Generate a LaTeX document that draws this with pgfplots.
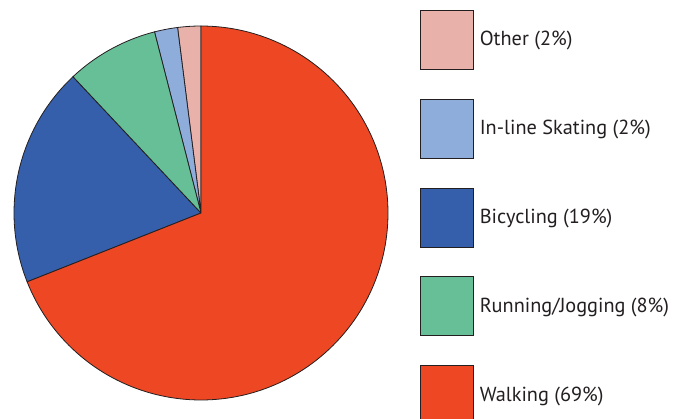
\documentclass[border=0pt]{standalone}
\usepackage{pgfplots}
\pgfplotsset{compat=1.18}
\usepackage{fontspec}
\setmainfont{PT Sans}
\definecolor{cOther}{HTML}{E8B2AA}
\definecolor{cInline}{HTML}{8FADDB}
\definecolor{cBike}{HTML}{355FAB}
\definecolor{cRun}{HTML}{67BF98}
\definecolor{cWalk}{HTML}{EE4723}
\definecolor{edge}{HTML}{231F20}
\definecolor{txt}{HTML}{231F20}
% shares in percent
\def\pOther{2}
\def\pInline{2}
\def\pBike{19}
\def\pRun{8}
\def\pWalk{69}
\pgfmathsetmacro\aA{90}
\pgfmathsetmacro\aB{\aA+3.6*\pOther}
\pgfmathsetmacro\aC{\aB+3.6*\pInline}
\pgfmathsetmacro\aD{\aC+3.6*\pRun}
\pgfmathsetmacro\aE{\aD+3.6*\pBike}
\pgfmathsetmacro\aF{\aE+3.6*\pWalk}
\begin{document}
\begin{tikzpicture}
\useasboundingbox (0,0) rectangle (676pt,418pt);
\begin{axis}[
  at={(201pt,205pt)}, anchor=center,
  x=187pt, y=187pt,
  xmin=-1, xmax=1, ymin=-1, ymax=1,
  hide axis, clip=false,
  legend image code/.code={\draw[#1] (0pt,-30pt) rectangle (53pt,29pt);},
  legend style={draw=none, fill=none, inner sep=0pt, outer sep=0pt,
    at={(1.0856,1.0428)}, anchor=north west,
    row sep=29pt, column sep=6pt,
    nodes={inner sep=0pt, outer sep=0pt},
    font=\fontsize{20.3}{24}\selectfont\color{txt}},
  legend cell align=left,
]
\addplot[fill=cOther, draw=edge, line width=0.8pt, domain=\aA:\aB, samples=8] ({cos(x)},{sin(x)}) -- (axis cs:0,0) -- cycle;
\addlegendentry{Other (2\%)}
\addplot[fill=cInline, draw=edge, line width=0.8pt, domain=\aB:\aC, samples=8] ({cos(x)},{sin(x)}) -- (axis cs:0,0) -- cycle;
\addlegendentry{In-line Skating (2\%)}
\addplot[fill=cBike, draw=edge, line width=0.8pt, domain=\aD:\aE, samples=60] ({cos(x)},{sin(x)}) -- (axis cs:0,0) -- cycle;
\addlegendentry{Bicycling (19\%)}
\addplot[fill=cRun, draw=edge, line width=0.8pt, domain=\aC:\aD, samples=25] ({cos(x)},{sin(x)}) -- (axis cs:0,0) -- cycle;
\addlegendentry{Running/Jogging (8\%)}
\addplot[fill=cWalk, draw=edge, line width=0.8pt, domain=\aE:\aF, samples=150] ({cos(x)},{sin(x)}) -- (axis cs:0,0) -- cycle;
\addlegendentry{Walking (69\%)}
\end{axis}
\end{tikzpicture}
\end{document}
